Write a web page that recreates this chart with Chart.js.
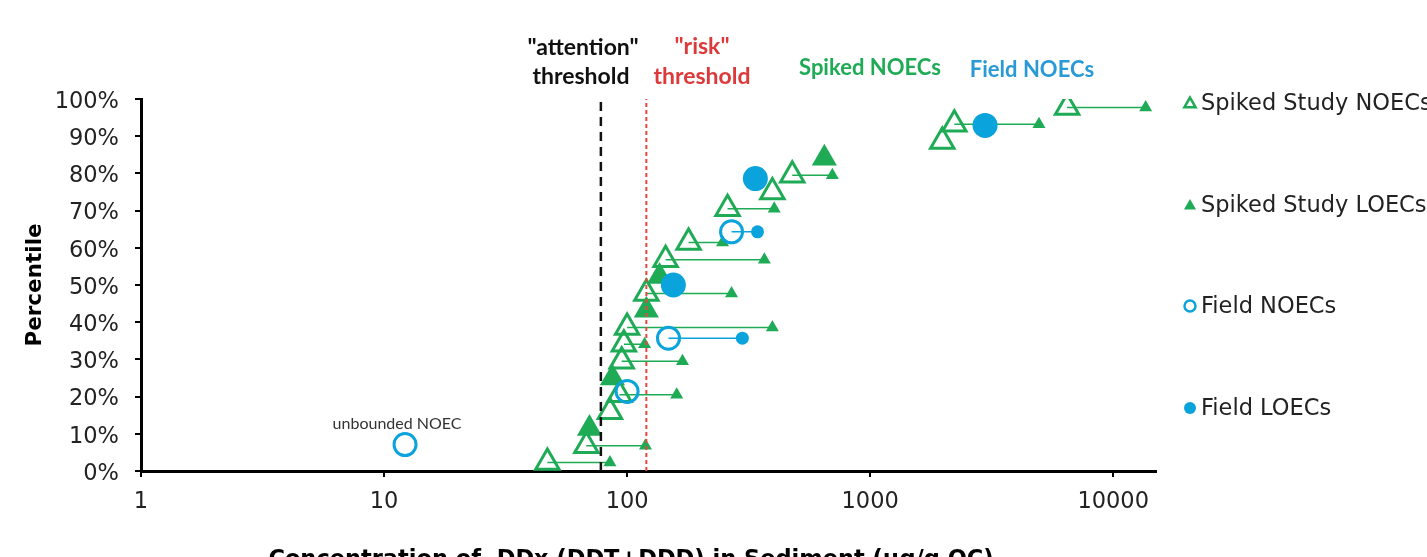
<!DOCTYPE html>
<html><head><meta charset="utf-8">
<script src="https://cdn.jsdelivr.net/npm/chart.js@4.4.1/dist/chart.umd.min.js"></script>
<style>
html,body{margin:0;padding:0;overflow:hidden;background:#fff;width:1427px;height:557px;}
#wrap{position:absolute;left:0;top:0;width:1480px;height:600px;}
</style></head><body>
<div id="wrap"><canvas id="c" width="1480" height="600"></canvas></div>
<script>
// ---- data (percentile %, concentration ug/g OC) ----
const xTickValues = [1, 10, 100, 1000, 10000];
const yTickValues = [0, 10, 20, 30, 40, 50, 60, 70, 80, 90, 100];

const spikedNoecPct  = [2.3, 6.8, 15.9, 20.5, 29.5, 34.1, 38.6, 47.7, 56.8, 61.4, 70.5, 75.0, 79.5, 88.6, 93.2, 97.7];
const spikedNoecConc = [47, 68, 85, 93, 95, 97, 100, 120, 144, 179, 259, 396, 478, 1980, 2220, 6460];

const spikedLoecPct  = [2.3, 6.8, 20.5, 29.5, 34.1, 38.6, 47.7, 56.8, 61.4, 70.5, 79.5, 93.2, 97.7];
const spikedLoecConc = [85, 119, 160, 169, 118, 396, 269, 367, 247, 403, 699, 4950, 13600];
const spikedPairNoecConc = [47, 68, 93, 95, 97, 100, 120, 144, 179, 259, 478, 2220, 6460];

const spikedUnboundedLoecPct  = [11.4, 25.0, 43.2, 52.3, 84.1];
const spikedUnboundedLoecConc = [70, 87, 120, 136, 648];

const fieldNoecPct  = [7.1, 21.4, 35.7, 64.3];
const fieldNoecConc = [12.2, 100, 148, 269];

const fieldLoecPct  = [35.7, 64.3];
const fieldLoecConc = [298, 344];
const fieldPairNoecConc = [148, 269];

const fieldUnboundedLoecPct  = [50.0, 78.6, 92.9];
const fieldUnboundedLoecConc = [155, 337, 2970];

const attentionThreshold = 78;
const riskThreshold = 120;

const legendLabels = ['Spiked Study NOECs', 'Spiked Study LOECs', 'Field NOECs', 'Field LOECs'];

// ---- styles ----
const GREEN = '#1fab55';
const BLUE = '#0aa3dc';
const RED = '#e8473c';

const pts = (xs, ys) => xs.map((x, i) => ({x: x, y: ys[i]}));
function connectors(fromX, toX, ys) {
  const out = [];
  ys.forEach((y, i) => { out.push({x: fromX[i], y: y}, {x: toX[i], y: y}, {x: toX[i], y: null}); });
  return out;
}

const overlay = {
  id: 'overlay',
  afterDraw(chart) {
    const ctx = chart.ctx;
    const xs = chart.scales.x, ys = chart.scales.y;
    ctx.save();
    // top annotations
    ctx.textAlign = 'center';
    ctx.textBaseline = 'middle';
    ctx.font = 'bold 23px Lato';
    ctx.fillStyle = '#111';
    ctx.fillText('"attention"', 583, 48);
    ctx.fillText('threshold', 581, 77);
    ctx.fillStyle = '#dc3a3a';
    ctx.fillText('"risk"', 702, 47);
    ctx.fillText('threshold', 702, 77);
    ctx.font = 'bold 22px Lato';
    ctx.fillStyle = GREEN;
    ctx.fillText('Spiked NOECs', 870, 68);
    ctx.fillStyle = '#2a9ad6';
    ctx.fillText('Field NOECs', 1032, 70);
    // unbounded label
    ctx.font = '16px Lato';
    ctx.fillStyle = '#333';
    ctx.fillText('unbounded NOEC', xs.getPixelForValue(fieldNoecConc[0]) - 8, ys.getPixelForValue(fieldNoecPct[0]) - 21);
    // x title
    ctx.font = 'bold 22.5px "DejaVu Sans"';
    ctx.fillStyle = '#000';
    ctx.fillText('Concentration of  DDx (DDT+DDD) in Sediment (\u03bcg/g OC)', 631, 560);
    // legend
    const lx = chart.chartArea.right + 34;
    const lys = [103, 205, 306, 408];
    ctx.textAlign = 'left';
    ctx.font = '22.5px "DejaVu Sans"';
    lys.forEach((ly, i) => {
      ctx.beginPath();
      if (i < 2) {
        const r = i === 0 ? 6.5 : 7;
        for (let k = 0; k < 3; k++) {
          const a = k * 2 * Math.PI / 3;
          const px = lx + Math.sin(a) * r, py = ly + 1 - Math.cos(a) * r;
          if (k === 0) ctx.moveTo(px, py); else ctx.lineTo(px, py);
        }
        ctx.closePath();
        if (i === 0) { ctx.lineWidth = 2.5; ctx.strokeStyle = GREEN; ctx.stroke(); }
        else { ctx.fillStyle = GREEN; ctx.fill(); }
      } else {
        if (i === 2) { ctx.arc(lx, ly, 5.5, 0, Math.PI * 2); ctx.lineWidth = 2.5; ctx.strokeStyle = BLUE; ctx.stroke(); }
        else { ctx.arc(lx, ly, 6, 0, Math.PI * 2); ctx.fillStyle = BLUE; ctx.fill(); }
      }
      ctx.fillStyle = '#222';
      ctx.fillText(legendLabels[i], lx + 11, ly + 1);
    });
    ctx.restore();
  }
};

new Chart(document.getElementById('c'), {
  type: 'scatter',
  data: {
    datasets: [
      {label: 'attention', type: 'line', data: [{x: attentionThreshold, y: 0}, {x: attentionThreshold, y: 100}],
       borderColor: '#111', borderWidth: 2.5, borderDash: [9, 6], pointRadius: 0, order: 1},
      {label: 'risk', type: 'line', data: [{x: riskThreshold, y: 0}, {x: riskThreshold, y: 100}],
       borderColor: RED, borderWidth: 2, borderDash: [4, 3], pointRadius: 0, order: 1},
      {label: 'Field LOECs (unbounded)', data: pts(fieldUnboundedLoecConc, fieldUnboundedLoecPct),
       pointStyle: 'circle', pointRadius: 12.5, backgroundColor: BLUE, borderWidth: 0, order: 2},
      {label: 'Field LOECs', data: pts(fieldLoecConc, fieldLoecPct),
       pointStyle: 'circle', pointRadius: 6.5, backgroundColor: BLUE, borderWidth: 0, order: 2},
      {label: 'Field NOECs', data: pts(fieldNoecConc, fieldNoecPct),
       pointStyle: 'circle', pointRadius: 11, backgroundColor: 'rgba(0,0,0,0)', borderColor: BLUE, borderWidth: 3, order: 2},
      {label: 'Spiked Study NOECs', data: pts(spikedNoecConc, spikedNoecPct),
       pointStyle: 'triangle', pointRadius: 13.5, backgroundColor: 'rgba(0,0,0,0)', borderColor: GREEN, borderWidth: 3, order: 3},
      {label: 'Spiked Study LOECs', data: pts(spikedLoecConc, spikedLoecPct),
       pointStyle: 'triangle', pointRadius: 7.5, backgroundColor: GREEN, borderColor: GREEN, borderWidth: 0, order: 3},
      {label: 'Spiked LOECs (unbounded)', data: pts(spikedUnboundedLoecConc, spikedUnboundedLoecPct),
       pointStyle: 'triangle', pointRadius: 14.5, backgroundColor: GREEN, borderColor: GREEN, borderWidth: 0, order: 4},
      {label: 'field links', type: 'line', data: connectors(fieldPairNoecConc, fieldLoecConc, fieldLoecPct),
       borderColor: BLUE, borderWidth: 1.5, pointRadius: 0, spanGaps: false, order: 5},
      {label: 'spiked links', type: 'line', data: connectors(spikedPairNoecConc, spikedLoecConc, spikedLoecPct),
       borderColor: GREEN, borderWidth: 1.5, pointRadius: 0, spanGaps: false, order: 5}
    ]
  },
  options: {
    responsive: false,
    animation: false,
    devicePixelRatio: 1,
    layout: {padding: {left: 0, right: 324, top: 99, bottom: 0}},
    plugins: {legend: {display: false}, tooltip: {enabled: false}},
    scales: {
      x: {
        type: 'logarithmic', min: 1, max: 15000, position: 'bottom',
        afterBuildTicks: s => { s.ticks = xTickValues.map(v => ({value: v})); },
        afterFit: s => { s.height = 129; },
        grid: {display: true, drawOnChartArea: false, drawTicks: true, tickLength: 6, color: '#000', lineWidth: 2},
        border: {display: true, color: '#000', width: 3},
        ticks: {autoSkip: false, maxRotation: 0, padding: 12, color: '#222',
                font: {family: 'DejaVu Sans', size: 22.5}, callback: v => String(v)}
      },
      y: {
        min: 0, max: 100,
        afterBuildTicks: s => { s.ticks = yTickValues.map(v => ({value: v})); },
        afterFit: s => { s.width = 141; },
        grid: {display: true, drawOnChartArea: false, drawTicks: true, tickLength: 6, color: '#000', lineWidth: 2},
        border: {display: true, color: '#000', width: 3},
        title: {display: true, text: 'Percentile', color: '#000', font: {family: 'DejaVu Sans', size: 21.5, weight: 'bold'}, padding: {top: 23, bottom: 0}},
        ticks: {padding: 16, labelOffset: 3, color: '#222', font: {family: 'DejaVu Sans', size: 22.5}, callback: v => v + '%'}
      }
    }
  },
  plugins: [overlay]
});
</script>
</body></html>
